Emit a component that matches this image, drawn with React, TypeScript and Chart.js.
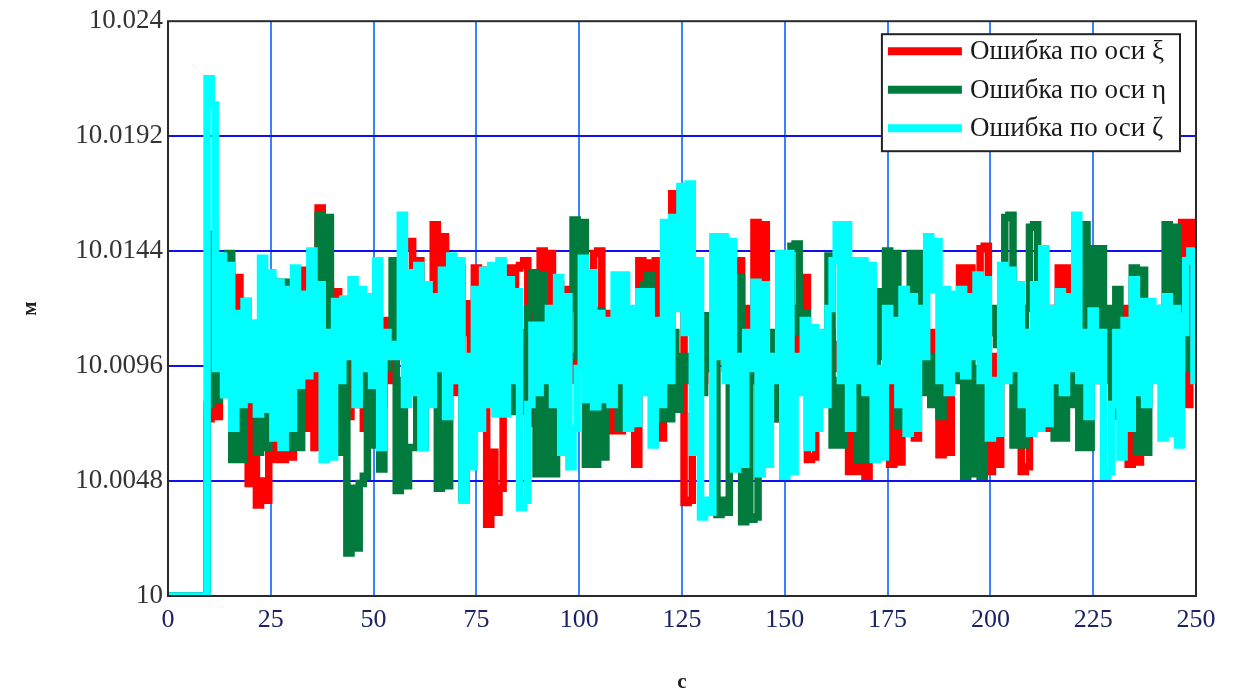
import React, { useEffect, useRef } from 'react';
import { Chart, registerables } from 'chart.js';

Chart.register(...registerables);

// Series names and colours (legend order)
const seriesLabels = ['Ошибка по оси ξ', 'Ошибка по оси η', 'Ошибка по оси ζ'];
const seriesColors = ['#ff0000', '#007a3d', '#00ffff'];

// Sampling: one value per second, starting at t = 0 c
const timeStep = 1;
// Values are stored as offsets from 10 m in units of 0.0001 m
const baseLevel = 10;
const offsetUnit = 0.0001;

// Ошибка по оси ξ (red)
const errXi = [
  0, 0, 0, 0, 0, 0, 0, 0, 0,
  0, 74, 110, 75, 118, 90, 125, 95, 133, 62, 120, 47, 100, 38, 48, 40, 119, 57, 105, 57, 100, 58, 110, 70, 136, 70, 110, 62, 162, 90, 130, 95, 127,
  100, 115, 75, 110, 80, 122, 70, 90, 72, 100, 80, 115, 90, 105, 100, 120, 146, 148, 99, 140, 90, 120, 85, 155, 105, 150, 90, 125, 85, 120, 110, 122, 100, 137, 110, 136, 30, 60, 35, 45, 90, 137,
  100, 137, 138, 140, 72, 120, 110, 144, 100, 143, 90, 130, 110, 128, 90, 100, 95, 110, 100, 105, 143, 144, 110, 118, 69, 95, 69, 100, 90, 105, 55, 140, 100, 139, 95, 140, 66, 100, 110, 168, 130, 169,
  39, 40, 75, 100, 90, 110, 95, 105, 100, 110, 95, 146, 100, 140, 70, 120, 90, 156, 115, 155, 90, 100, 74, 110, 100, 131, 90, 120, 100, 133, 57, 58, 90, 100, 100, 110, 95, 105, 100, 110, 52, 100,
  52, 100, 50, 110, 80, 127, 100, 110, 55, 90, 56, 100, 95, 110, 66, 100, 95, 110, 100, 110, 59, 105, 60, 110, 100, 137, 110, 137, 100, 120, 145, 146, 52, 100, 55, 110, 100, 120, 95, 110, 52, 54,
  100, 110, 95, 105, 70, 120, 71, 137, 100, 137, 95, 110, 100, 105, 95, 110, 90, 100, 95, 105, 90, 120, 100, 120, 55, 95, 56, 60, 95, 100, 100, 110, 90, 115, 100, 110, 120, 156, 80, 156, 90,
];

// Ошибка по оси η (green)
const errEta = [
  0, 0, 0, 0, 0, 0, 0, 0, 0,
  0, 80, 151, 82, 120, 100, 143, 57, 115, 57, 123, 85, 100, 60, 100, 62, 132, 90, 131, 105, 131, 62, 95, 62, 94, 94, 100, 130, 159, 105, 158, 60, 110,
  60, 110, 18, 45, 20, 47, 50, 95, 63, 102, 53, 95, 100, 140, 44, 90, 46, 62, 62, 95, 62, 100, 100, 110, 45, 95, 46, 100, 120, 137, 41, 90, 80, 110, 90, 120, 95, 110, 85, 105, 80, 105,
  77, 100, 77, 110, 120, 135, 51, 134, 51, 95, 51, 90, 100, 100, 120, 157, 100, 156, 55, 95, 55, 119, 58, 100, 90, 100, 70, 100, 70, 110, 100, 125, 130, 134, 100, 110, 74, 90, 74, 110, 78, 100,
  90, 100, 100, 117, 85, 117, 95, 100, 34, 40, 35, 90, 110, 133, 31, 95, 32, 33, 90, 100, 100, 110, 74, 90, 80, 110, 146, 147, 110, 118, 90, 100, 100, 105, 95, 142, 63, 90, 63, 100, 95, 137,
  57, 137, 57, 100, 90, 127, 105, 144, 100, 143, 71, 90, 71, 143, 100, 143, 85, 100, 80, 100, 75, 100, 90, 100, 90, 95, 50, 100, 51, 95, 50, 100, 110, 120, 105, 110, 158, 159, 63, 100, 63, 120,
  154, 155, 100, 110, 90, 100, 66, 95, 66, 100, 80, 100, 62, 155, 62, 145, 100, 145, 90, 120, 75, 128, 90, 100, 100, 137, 60, 136, 60, 95, 100, 110, 120, 155, 100, 154, 90, 110, 95, 100, 100,
];

// Ошибка по оси ζ (cyan)
const errZeta = [
  0, 0, 0, 0, 0, 0, 0, 0, 0,
  0, 216, 205, 95, 142, 84, 138, 70, 118, 80, 123, 82, 114, 76, 141, 78, 135, 66, 131, 62, 128, 70, 137, 88, 126, 92, 144, 95, 130, 57, 110, 58, 123,
  90, 124, 100, 132, 80, 128, 95, 125, 88, 140, 62, 110, 100, 105, 100, 159, 80, 135, 85, 138, 62, 130, 80, 125, 95, 136, 75, 142, 90, 140, 40, 100, 54, 128, 70, 136, 80, 138, 76, 140, 76, 132,
  90, 127, 37, 40, 80, 113, 85, 113, 90, 120, 80, 133, 60, 125, 54, 70, 95, 141, 82, 135, 79, 118, 82, 115, 80, 134, 90, 134, 70, 120, 72, 127, 85, 127, 63, 115, 80, 156, 90, 158, 120, 171,
  110, 172, 60, 140, 33, 40, 35, 150, 100, 150, 90, 148, 53, 100, 55, 110, 95, 131, 51, 130, 55, 100, 90, 143, 50, 143, 52, 100, 85, 115, 62, 112, 70, 110, 80, 120, 140, 155, 90, 155, 70, 140,
  90, 140, 85, 138, 57, 95, 58, 120, 90, 115, 80, 128, 68, 125, 70, 120, 100, 150, 128, 148, 90, 128, 85, 126, 95, 128, 92, 125, 100, 134, 90, 132, 66, 90, 68, 138, 90, 136, 95, 130, 80, 110,
  68, 130, 70, 145, 72, 120, 90, 127, 85, 125, 95, 159, 90, 110, 75, 119, 90, 110, 50, 52, 80, 110, 58, 115, 70, 132, 85, 123, 80, 123, 90, 120, 66, 125, 68, 120, 63, 110, 140, 144, 90,
];

// Axis ticks
const xTicks = [0, 25, 50, 75, 100, 125, 150, 175, 200, 225, 250];
const yTicks = [10, 10.0048, 10.0096, 10.0144, 10.0192, 10.024];
const yTickLabels = ['10', '10.0048', '10.0096', '10.0144', '10.0192', '10.024'];
const xTitle = 'с';
const yTitle = 'м';

const toPoints = (arr: number[]) =>
  arr.map((v, i) => ({ x: i * timeStep, y: baseLevel + v * offsetUnit }));

const SERIF = '"Liberation Serif", "Times New Roman", serif';

const framePlugin = {
  id: 'frame',
  afterDatasetsDraw(chart: any) {
    const { ctx, chartArea } = chart;
    ctx.save();
    ctx.strokeStyle = '#2a2a2a';
    ctx.lineWidth = 2;
    ctx.strokeRect(chartArea.left, chartArea.top, chartArea.right - chartArea.left, chartArea.bottom - chartArea.top);
    ctx.restore();
  },
};

const boxLegendPlugin = {
  id: 'boxLegend',
  afterDraw(chart: any) {
    const { ctx, chartArea } = chart;
    const datasets = chart.data.datasets;
    ctx.save();
    ctx.font = `27px ${SERIF}`;
    let maxW = 0;
    datasets.forEach((d: any) => {
      maxW = Math.max(maxW, ctx.measureText(d.label).width);
    });
    const padL = 6;
    const swatch = 74;
    const gap = 8;
    const padR = 14;
    const rowH = 38.5;
    const boxW = padL + swatch + gap + maxW + padR;
    const boxH = 117;
    const right = chartArea.right - 16;
    const top = chartArea.top + 13;
    const left = right - boxW;
    ctx.fillStyle = '#ffffff';
    ctx.fillRect(left, top, boxW, boxH);
    ctx.strokeStyle = '#222222';
    ctx.lineWidth = 2;
    ctx.strokeRect(left, top, boxW, boxH);
    datasets.forEach((d: any, i: number) => {
      const cy = top + 17 + i * rowH;
      ctx.strokeStyle = d.borderColor;
      ctx.lineWidth = 8;
      ctx.lineCap = 'butt';
      ctx.beginPath();
      ctx.moveTo(left + padL, cy);
      ctx.lineTo(left + padL + swatch, cy);
      ctx.stroke();
      ctx.fillStyle = '#1a1a1a';
      ctx.textBaseline = 'middle';
      ctx.textAlign = 'left';
      ctx.fillText(d.label, left + padL + swatch + gap, cy + 1);
    });
    ctx.restore();
  },
};

export default function App() {
  const canvasRef = useRef<HTMLCanvasElement | null>(null);

  useEffect(() => {
    const canvas = canvasRef.current;
    if (!canvas) return;
    const series = [errXi, errEta, errZeta];
    const drawOrder = [3, 2, 1];
    const chart = new Chart(canvas, {
      type: 'line',
      data: {
        datasets: series.map((arr, i) => ({
          label: seriesLabels[i],
          data: toPoints(arr),
          borderColor: seriesColors[i],
          backgroundColor: seriesColors[i],
          borderWidth: 7.5,
          pointRadius: 0,
          tension: 0,
          stepped: 'middle',
          fill: false,
          borderJoinStyle: 'miter',
          borderCapStyle: 'butt',
          order: drawOrder[i],
        })),
      },
      options: {
        animation: false,
        responsive: false,
        maintainAspectRatio: false,
        events: [],
        layout: { padding: { left: 0, top: 20, right: 44, bottom: 0 } },
        plugins: {
          legend: { display: false },
          tooltip: { enabled: false },
          title: { display: false },
        },
        scales: {
          x: {
            type: 'linear',
            min: xTicks[0],
            max: xTicks[xTicks.length - 1],
            afterBuildTicks: (scale: any) => {
              scale.ticks = xTicks.map((v) => ({ value: v }));
            },
            afterFit: (scale: any) => {
              scale.height = 99;
            },
            border: { display: false },
            grid: {
              drawTicks: false,
              lineWidth: 2,
              color: (c: any) =>
                c.index === 0 || c.index === xTicks.length - 1 ? 'rgba(0,0,0,0)' : '#3b82ff',
            },
            ticks: {
              color: '#1c2366',
              font: { family: SERIF, size: 26 },
              padding: 9,
              maxRotation: 0,
              autoSkip: false,
            },
            title: {
              display: true,
              text: xTitle,
              color: '#222222',
              font: { family: SERIF, size: 21, weight: 'bold' },
              padding: { top: 0, bottom: 0 },
            },
          },
          y: {
            type: 'linear',
            min: yTicks[0],
            max: yTicks[yTicks.length - 1],
            afterBuildTicks: (scale: any) => {
              scale.ticks = yTicks.map((v) => ({ value: v }));
            },
            afterFit: (scale: any) => {
              scale.width = 168;
            },
            border: { display: false },
            grid: {
              drawTicks: false,
              lineWidth: 2,
              color: (c: any) =>
                c.index === 0 || c.index === yTicks.length - 1 ? 'rgba(0,0,0,0)' : '#1010f0',
            },
            ticks: {
              color: '#333333',
              font: { family: SERIF, size: 27 },
              padding: 5,
              autoSkip: false,
              callback: (_v: any, i: number) => yTickLabels[i],
            },
            title: {
              display: true,
              text: yTitle,
              color: '#222222',
              font: { family: SERIF, size: 21, weight: 'bold' },
              padding: { top: 18, bottom: 0 },
            },
          },
        },
      },
      plugins: [framePlugin, boxLegendPlugin],
    } as any);
    return () => {
      chart.destroy();
    };
  }, []);

  return (
    <div style={{ position: 'fixed', left: 0, top: 0, width: 1240, height: 695, background: '#ffffff' }}>
      <canvas ref={canvasRef} width={1240} height={695} style={{ display: 'block' }} />
    </div>
  );
}
